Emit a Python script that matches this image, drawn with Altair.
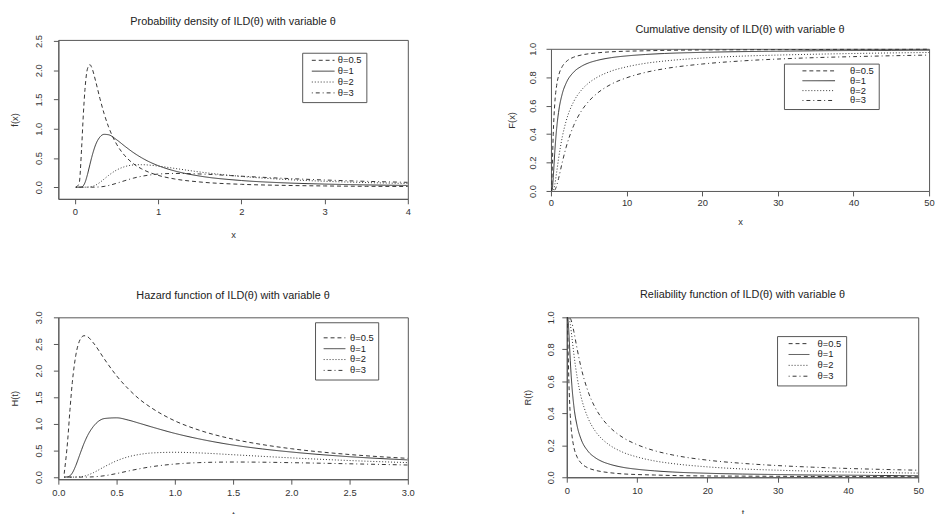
import altair as alt
import pandas as pd

FONT = "Liberation Sans"
THETAS = ["θ=0.5", "θ=1", "θ=2", "θ=3"]

# ---- Probability density f(x) ----
pdf_x = [0.01, 0.05, 0.08, 0.1, 0.12, 0.15, 0.18, 0.2, 0.25, 0.3, 0.35, 0.4, 0.5,
         0.6, 0.7, 0.8, 0.9, 1.0, 1.2, 1.5, 2.0, 2.5, 3.0, 3.5, 4.0]
pdf_05 = [0.0, 0.064, 0.679, 1.235, 1.675, 2.026, 2.097, 2.052, 1.804, 1.516, 1.258, 1.045, 0.736,
          0.537, 0.404, 0.314, 0.249, 0.202, 0.140, 0.089, 0.049, 0.031, 0.021, 0.015, 0.012]
pdf_1 = [0.0, 0.0, 0.004, 0.025, 0.078, 0.217, 0.391, 0.505, 0.733, 0.859, 0.904, 0.898, 0.812,
         0.700, 0.594, 0.504, 0.429, 0.368, 0.277, 0.190, 0.114, 0.075, 0.053, 0.039, 0.030]
pdf_2 = [0.0, 0.0, 0.0, 0.0, 0.0, 0.001, 0.004, 0.009, 0.036, 0.082, 0.139, 0.197, 0.293,
         0.352, 0.380, 0.385, 0.377, 0.361, 0.321, 0.260, 0.184, 0.134, 0.101, 0.079, 0.063]
pdf_3 = [0.0, 0.0, 0.0, 0.0, 0.0, 0.0, 0.0, 0.0, 0.001, 0.005, 0.013, 0.027, 0.067,
         0.112, 0.154, 0.186, 0.209, 0.224, 0.235, 0.226, 0.188, 0.152, 0.123, 0.100, 0.083]

# ---- Cumulative F(x) and reliability R(t) share this grid ----
cdf_x = [0, 0.05, 0.1, 0.2, 0.3, 0.5, 0.75, 1, 1.5, 2, 3, 4, 5, 6, 8, 10, 12.5, 15,
         20, 25, 30, 35, 40, 45, 50]
cdf_05 = [0, 0.0004, 0.029, 0.219, 0.399, 0.613, 0.742, 0.809, 0.876, 0.909, 0.941, 0.956, 0.965,
          0.971, 0.979, 0.983, 0.986, 0.989, 0.992, 0.993, 0.994, 0.995, 0.996, 0.996, 0.997]
cdf_1 = [0, 0, 0.0003, 0.024, 0.095, 0.271, 0.439, 0.552, 0.685, 0.758, 0.836, 0.876, 0.901,
         0.917, 0.938, 0.950, 0.960, 0.967, 0.975, 0.980, 0.983, 0.986, 0.988, 0.989, 0.990]
cdf_2 = [0, 0, 0, 0.0002, 0.004, 0.043, 0.131, 0.226, 0.381, 0.491, 0.628, 0.708, 0.760,
         0.796, 0.844, 0.873, 0.898, 0.914, 0.935, 0.948, 0.956, 0.962, 0.967, 0.971, 0.974]
cdf_3 = [0, 0, 0, 0, 0.0002, 0.006, 0.037, 0.087, 0.203, 0.307, 0.460, 0.561, 0.631,
         0.682, 0.752, 0.796, 0.834, 0.860, 0.893, 0.914, 0.928, 0.938, 0.945, 0.951, 0.956]

rel_05 = [1, 1.0, 0.971, 0.781, 0.601, 0.387, 0.258, 0.191, 0.124, 0.091, 0.059, 0.044, 0.035,
          0.029, 0.021, 0.017, 0.014, 0.011, 0.008, 0.007, 0.006, 0.005, 0.004, 0.004, 0.003]
rel_1 = [1, 1, 1.0, 0.976, 0.905, 0.729, 0.561, 0.448, 0.316, 0.242, 0.164, 0.124, 0.099,
         0.083, 0.062, 0.050, 0.040, 0.033, 0.025, 0.020, 0.017, 0.014, 0.013, 0.011, 0.010]
rel_2 = [1, 1, 1, 1.0, 0.996, 0.957, 0.869, 0.774, 0.619, 0.510, 0.373, 0.292, 0.240,
         0.204, 0.156, 0.127, 0.102, 0.086, 0.065, 0.052, 0.044, 0.038, 0.033, 0.029, 0.026]
rel_3 = [1, 1, 1, 1, 1.0, 0.994, 0.963, 0.913, 0.797, 0.693, 0.540, 0.439, 0.369,
         0.318, 0.248, 0.204, 0.166, 0.140, 0.107, 0.087, 0.073, 0.063, 0.055, 0.049, 0.044]

# ---- Hazard H(t) ----
haz_x = [0.05, 0.08, 0.1, 0.12, 0.15, 0.18, 0.2, 0.22, 0.25, 0.3, 0.4, 0.5, 0.6, 0.7,
         0.8, 1.0, 1.2, 1.5, 1.75, 2.0, 2.5, 3.0]
haz_05 = [0.064, 0.686, 1.272, 1.779, 2.289, 2.549, 2.627, 2.655, 2.637, 2.522, 2.201, 1.902,
          1.658, 1.456, 1.299, 1.056, 0.888, 0.712, 0.611, 0.533, 0.424, 0.352]
haz_1 = [0.0, 0.004, 0.025, 0.078, 0.218, 0.397, 0.517, 0.631, 0.776, 0.949, 1.101, 1.113,
         1.071, 1.008, 0.943, 0.821, 0.721, 0.602, 0.529, 0.471, 0.383, 0.323]
haz_2 = [0.0, 0.0, 0.0, 0.0, 0.001, 0.004, 0.009, 0.017, 0.036, 0.082, 0.200, 0.306,
         0.381, 0.427, 0.453, 0.466, 0.455, 0.420, 0.390, 0.361, 0.311, 0.272]
haz_3 = [0.0, 0.0, 0.0, 0.0, 0.0, 0.0, 0.0, 0.0, 0.001, 0.005, 0.027, 0.067,
         0.114, 0.158, 0.195, 0.245, 0.271, 0.283, 0.280, 0.271, 0.250, 0.227]

# axis tick values
pdf_xticks = [0, 1, 2, 3, 4]
pdf_yticks = [0.0, 0.5, 1.0, 1.5, 2.0, 2.5]
cdf_xticks = [0, 10, 20, 30, 40, 50]
unit_yticks = [0.0, 0.2, 0.4, 0.6, 0.8, 1.0]
haz_xticks = [0.0, 0.5, 1.0, 1.5, 2.0, 2.5, 3.0]
haz_yticks = [0.0, 0.5, 1.0, 1.5, 2.0, 2.5, 3.0]

DASHES = [[4, 3], [1, 0], [1, 2], [1, 3, 4, 3]]
LINE = "#333333"
FRAME = "#555555"
SYM = 16  # legend symbol "size" (kept small so rows stay tight)


def long_df(xs, series):
    rows = []
    for lab, ys in zip(THETAS, series):
        for x, y in zip(xs, ys):
            rows.append({"x": x, "y": y, "theta": lab})
    return pd.DataFrame(rows)


def panel(df, title, xtitle, ytitle, xdom, ydom, xticks, yticks, xfmt, yfmt,
          w, h, lx, ly, ytx, xty, ylabpad, xlabpad, sym_len, sym_start, lab_off,
          title_offset, legend_title=None, top_gap=0, row_h=7.3):
    # top_gap: blank band above the framed plot region (frame drawn by axes then)
    total_h = h + top_gap
    yscale = (alt.Scale(domain=ydom, nice=False, zero=False, range=[total_h, top_gap])
              if top_gap else alt.Scale(domain=ydom, nice=False, zero=False))
    xscale = alt.Scale(domain=xdom, nice=False, zero=False)
    xaxis = alt.Axis(values=xticks, format=xfmt, title=xtitle, grid=False, orient="bottom",
                     labelPadding=xlabpad, labelFlush=False, labelOverlap=False,
                     titleX=w / 2, titleY=xty, titleAlign="center", titleBaseline="middle",
                     titleAngle=0)
    yaxis = alt.Axis(values=yticks, format=yfmt, title=ytitle, grid=False, orient="left",
                     labelAngle=-90, labelAlign="center", labelBaseline="bottom",
                     labelPadding=ylabpad, labelFlush=False, labelOverlap=False,
                     titleX=ytx, titleY=top_gap + h / 2, titleAlign="center",
                     titleBaseline="middle", titleAngle=-90)
    k = sym_len / 4.0
    leg_kw = dict(orient="none", legendX=lx, legendY=ly,
                  direction="vertical", fillColor="white", strokeColor=FRAME,
                  padding=4, labelFont=FONT, labelFontSize=9.5, labelColor="#222222",
                  symbolType=f"M-{k},0L{k},0", symbolSize=SYM,
                  symbolStrokeWidth=1, symbolStrokeColor=LINE,
                  symbolOffset=sym_start + sym_len / 2 - 2, labelOffset=lab_off,
                  rowPadding=0, clipHeight=row_h)
    if legend_title is None:
        leg_kw["title"] = None
    else:
        leg_kw.update(title=legend_title, titleFontSize=6, titlePadding=2)
    legend = alt.Legend(**leg_kw)
    base = alt.Chart(df)
    lines = base.mark_line(color=LINE, strokeWidth=1, interpolate="monotone", clip=True).encode(
        x=alt.X("x:Q", scale=xscale, axis=xaxis),
        y=alt.Y("y:Q", scale=yscale, axis=yaxis),
        strokeDash=alt.StrokeDash("theta:N", scale=alt.Scale(domain=THETAS, range=DASHES),
                                  legend=legend),
    )
    title_p = alt.TitleParams(title, font=FONT, fontSize=11, fontWeight="normal",
                              color="#222222", anchor="middle", offset=title_offset)
    if not top_gap:
        return lines.properties(width=w, height=h, title=title_p,
                                view=alt.ViewBackground(stroke=FRAME, strokeWidth=1))
    # frame: top and right edges as bare axis lines over the framed region
    edges = base.mark_line(strokeOpacity=0).encode(
        x=alt.X("x:Q", scale=xscale,
                axis=alt.Axis(orient="top", labels=False, ticks=False, title=None, grid=False,
                              offset=-top_gap)),
        y=alt.Y("y:Q", scale=yscale,
                axis=alt.Axis(orient="right", labels=False, ticks=False, title=None,
                              grid=False)),
    )
    return (
        alt.layer(lines, edges)
        .resolve_axis(x="independent", y="independent")
        .properties(width=w, height=total_h, title=title_p,
                    view=alt.ViewBackground(strokeWidth=0))
    )


tl = panel(long_df(pdf_x, [pdf_05, pdf_1, pdf_2, pdf_3]),
           "Probability density of ILD(θ) with variable θ", "x", "f(x)",
           [-0.2, 4.0], [-0.2, 2.52], pdf_xticks, pdf_yticks, "d", ".1f",
           354, 161, 247, 13, -44, 36, 10, 3,
           sym_len=23, sym_start=3, lab_off=10, title_offset=8)

tr = panel(long_df(cdf_x, [cdf_05, cdf_1, cdf_2, cdf_3]),
           "Cumulative density of ILD(θ) with variable θ", "x", "F(x)",
           [0, 50], [0, 1], cdf_xticks, unit_yticks, "d", ".1f",
           383, 144, 236, 24, -40, 31, 9, 2,
           sym_len=33, sym_start=12, lab_off=27, title_offset=5, top_gap=9, row_h=6.7)

bl = panel(long_df(haz_x, [haz_05, haz_1, haz_2, haz_3]),
           "Hazard function of ILD(θ) with variable θ", "t", "H(t)",
           [0, 3.0], [-0.04, 3.0], haz_xticks, haz_yticks, ".1f", ".1f",
           354, 164, 260, 5, -44, 36, 10, 3,
           sym_len=22, sym_start=2, lab_off=11, title_offset=10, legend_title=" ",
           row_h=7.5)

br = panel(long_df(cdf_x, [rel_05, rel_1, rel_2, rel_3]),
           "Reliability function of ILD(θ) with variable θ", "t", "R(t)",
           [0, 50], [0, 1], cdf_xticks, unit_yticks, "d", ".1f",
           356, 162, 213, 19, -40, 36, 6, 3,
           sym_len=21, sym_start=5, lab_off=14, title_offset=11)

row1 = (alt.hconcat(tl, tr, spacing=96)
        .resolve_scale(strokeDash="independent").resolve_legend(strokeDash="independent"))
row2 = (alt.hconcat(bl, br, spacing=107)
        .resolve_scale(strokeDash="independent").resolve_legend(strokeDash="independent"))

chart = (
    alt.vconcat(row1, row2, spacing=49)
    .resolve_scale(strokeDash="independent").resolve_legend(strokeDash="independent")
    .properties(padding={"left": 1, "top": 4, "right": 0, "bottom": 0}, background="white")
    .configure_axis(
        labelFont=FONT, labelFontSize=9.5, labelColor="#333333",
        titleFont=FONT, titleFontSize=9.5, titleFontWeight="normal", titleColor="#333333",
        tickSize=5, tickColor=FRAME, domainColor=FRAME, tickWidth=1, domainWidth=1,
    )
)

chart.save("out.html", embed_options={"renderer": "svg", "actions": False})
